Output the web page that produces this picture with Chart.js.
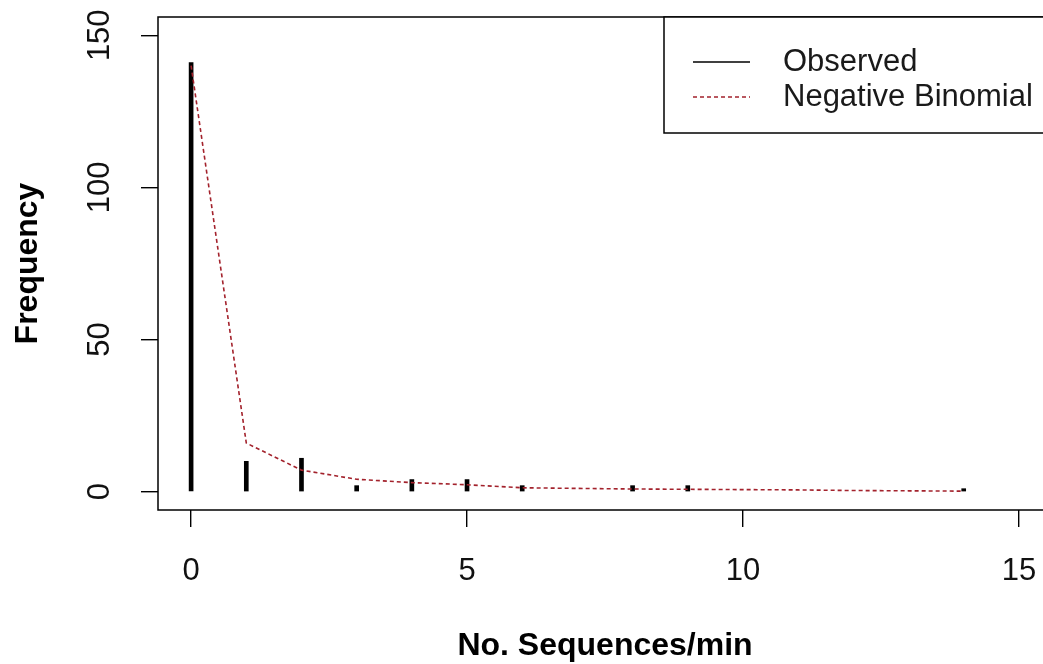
<!DOCTYPE html>
<html>
<head>
<meta charset="utf-8">
<script src="https://cdn.jsdelivr.net/npm/chart.js@4/dist/chart.umd.min.js"></script>
<style>
  html, body { margin: 0; padding: 0; background: #fff; overflow: hidden; }
  #wrap { width: 1060px; height: 664px; }
</style>
</head>
<body>
<div id="wrap"><canvas id="c" width="1060" height="664"></canvas></div>
<script>
// Counts of sequences per minute and the fitted negative binomial frequencies
const obsX = [0, 1, 2, 3, 4, 5, 6, 8, 9, 14];
const obsFreq = [141, 10, 11, 2, 4, 4, 2, 2, 2, 1];
const nbX = [0, 1, 2, 3, 4, 5, 6, 7, 8, 9, 10, 11, 12, 13, 14];
const nbFreq = [140, 16, 7.1, 4.1, 3.0, 2.3, 1.3, 1.1, 0.9, 0.8, 0.7, 0.6, 0.4, 0.3, 0.2];
const xTicks = [0, 5, 10, 15];
const yTicks = [0, 50, 100, 150];
const seriesNames = ['Observed', 'Negative Binomial'];

const FONT = "'Liberation Sans', Arial, sans-serif";
const NB_COLOR = '#a3222c';

// Box around the plot region plus the boxed legend in the top-right corner
const framePlugin = {
  id: 'frame',
  afterDraw(chart) {
    const { ctx, chartArea: a } = chart;
    ctx.save();
    ctx.strokeStyle = '#000';
    ctx.lineWidth = 1.5;
    ctx.strokeRect(a.left, a.top, a.right - a.left, a.bottom - a.top);

    const lx = a.right - 388, ly = a.top, lh = 116;
    ctx.fillStyle = '#fff';
    ctx.fillRect(lx, ly, a.right - lx + 20, lh);
    ctx.strokeRect(lx, ly, a.right - lx + 20, lh);
    const rows = [ly + 45, ly + 80];
    chart.data.datasets.forEach((ds, i) => {
      const y = rows[i];
      ctx.beginPath();
      ctx.strokeStyle = ds.legendColor;
      ctx.lineWidth = 1.6;
      ctx.setLineDash(ds.borderDash || []);
      ctx.moveTo(lx + 29, y);
      ctx.lineTo(lx + 86, y);
      ctx.stroke();
      ctx.setLineDash([]);
      ctx.fillStyle = '#1a1a1a';
      ctx.font = '31px ' + FONT;
      ctx.textBaseline = 'middle';
      ctx.textAlign = 'left';
      ctx.fillText(ds.label, lx + 119, y);
    });
    ctx.restore();
  }
};

new Chart(document.getElementById('c'), {
  data: {
    datasets: [
      {
        type: 'bar',
        label: seriesNames[0],
        data: obsX.map((x, i) => ({ x, y: obsFreq[i] })),
        backgroundColor: '#000',
        legendColor: '#000',
        barThickness: 4,
        order: 2
      },
      {
        type: 'line',
        label: seriesNames[1],
        data: nbX.map((x, i) => ({ x, y: nbFreq[i] })),
        borderColor: NB_COLOR,
        legendColor: NB_COLOR,
        borderWidth: 1.6,
        borderDash: [4, 3],
        pointRadius: 0,
        tension: 0,
        fill: false,
        order: 1
      }
    ]
  },
  options: {
    responsive: false,
    animation: false,
    layout: { padding: { top: 17, right: 8, left: 0, bottom: 0 } },
    plugins: { legend: { display: false }, tooltip: { enabled: false } },
    scales: {
      x: {
        type: 'linear',
        min: -0.6,
        max: 15.6,
        offset: false,
        afterBuildTicks: s => { s.ticks = xTicks.map(v => ({ value: v })); },
        afterFit: s => { s.height = 154; s.paddingLeft = 0; s.paddingRight = 0; },
        grid: { offset: false, drawOnChartArea: false, drawTicks: true, tickLength: 17, color: '#000', lineWidth: 1.4 },
        border: { display: false },
        ticks: { color: '#111', font: { family: FONT, size: 31 }, padding: 26, maxRotation: 0, autoSkip: false },
        title: { display: true, text: 'No. Sequences/min', color: '#000',
                 font: { family: FONT, size: 32, weight: 'bold', lineHeight: 1 }, padding: { top: 0, bottom: 2 } }
      },
      y: {
        type: 'linear',
        min: -6,
        max: 156,
        afterBuildTicks: s => { s.ticks = yTicks.map(v => ({ value: v })); },
        afterFit: s => { s.width = 158; s.paddingTop = 0; s.paddingBottom = 0; },
        grid: { drawOnChartArea: false, drawTicks: true, tickLength: 17, color: '#000', lineWidth: 1.4 },
        border: { display: false },
        ticks: { color: '#111', font: { family: FONT, size: 31 }, padding: 15, minRotation: 90, maxRotation: 90,
                 crossAlign: 'center', autoSkip: false },
        title: { display: true, text: 'Frequency', color: '#000',
                 font: { family: FONT, size: 32, weight: 'bold', lineHeight: 1 }, padding: { top: 12, bottom: 0 } }
      }
    }
  },
  plugins: [framePlugin]
});
</script>
</body>
</html>
